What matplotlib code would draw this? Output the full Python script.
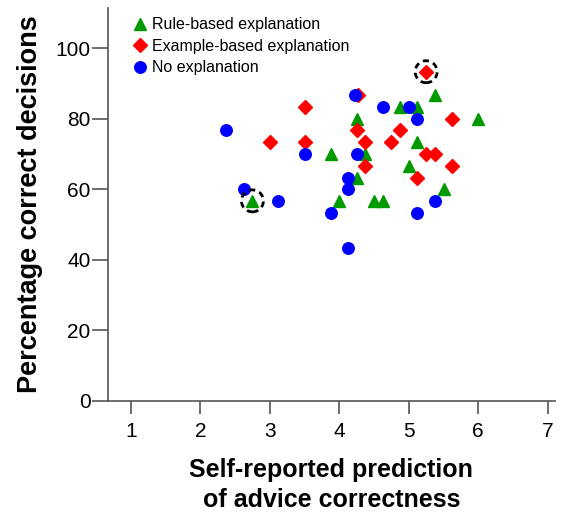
import matplotlib
matplotlib.use("Agg")
import matplotlib.pyplot as plt

plt.rcParams['font.family'] = ['Liberation Sans', 'DejaVu Sans']

rule_x = [2.75, 3.875, 4.25, 4.0, 4.25, 4.375, 4.875, 5.125, 5.375, 6.0, 5.125, 5.0, 5.5, 4.5, 4.625]
rule_y = [56.7, 70.0, 80.0, 56.7, 63.3, 70.0, 83.3, 83.3, 86.7, 80.0, 73.3, 66.7, 60.0, 56.7, 56.7]

example_x = [3.0, 3.5, 3.5, 4.27, 4.25, 4.375, 4.375, 5.25, 5.625, 4.875, 4.75, 5.25, 5.375, 5.625, 5.125]
example_y = [73.3, 83.3, 73.3, 86.7, 76.7, 73.3, 66.7, 93.3, 80.0, 76.7, 73.3, 70.0, 70.0, 66.7, 63.3]

none_x = [2.375, 2.625, 3.125, 3.5, 4.22, 4.25, 4.125, 4.125, 3.875, 4.125, 4.625, 5.0, 5.125, 5.375, 5.125]
none_y = [76.7, 60.0, 56.7, 70.0, 86.7, 70.0, 63.3, 60.0, 53.3, 43.3, 83.3, 83.3, 80.0, 56.7, 53.3]

highlight_x = [2.75, 5.25]
highlight_y = [56.7, 93.3]

labels = ['Rule-based explanation', 'Example-based explanation', 'No explanation']
x_ticks = [1, 2, 3, 4, 5, 6, 7]
y_ticks = [0, 20, 40, 60, 80, 100]

fig = plt.figure(figsize=(5.62, 5.14), dpi=100)
ax = fig.add_axes([0.192, 0.22, 0.795, 0.764])

ax.plot(rule_x, rule_y, linestyle='none', marker='^', color='#009900', markersize=8, label=labels[0])
ax.plot(example_x, example_y, linestyle='none', marker='D', color='#ff0000', markersize=7.5, label=labels[1])
ax.plot(none_x, none_y, linestyle='none', marker='o', color='#0000ff', markersize=8.3, label=labels[2])
ax.scatter(highlight_x, highlight_y, s=250, facecolors='none', edgecolors='black',
           linestyles=(0, (2.2, 1.6)), linewidths=2.0, zorder=5)

ax.set_xlim(0.67, 7.1)
ax.set_ylim(0, 111.3)
ax.set_xticks(x_ticks)
ax.set_yticks(y_ticks)
for s in ['top', 'right']:
    ax.spines[s].set_visible(False)
for s in ['left', 'bottom']:
    ax.spines[s].set_color('#555555')
    ax.spines[s].set_linewidth(1.2)
ax.tick_params(axis='both', direction='out', width=1.2, color='#555555', labelsize=15)
ax.tick_params(axis='y', length=11.5, pad=1)
ax.tick_params(axis='x', length=9.5, pad=6)

ax.set_xlabel('Self-reported prediction\nof advice correctness', fontsize=18, fontweight='bold',
              labelpad=12, linespacing=1.3)
ax.set_ylabel('Percentage correct decisions', fontsize=19.5, fontweight='bold', labelpad=9)

leg = ax.legend(loc='upper left', bbox_to_anchor=(0.033, 1.005), frameon=False, fontsize=11.5,
                handlelength=0.8, handletextpad=0.35, labelspacing=0.4, borderaxespad=0.3)

fig.savefig('out.png', dpi=100)
